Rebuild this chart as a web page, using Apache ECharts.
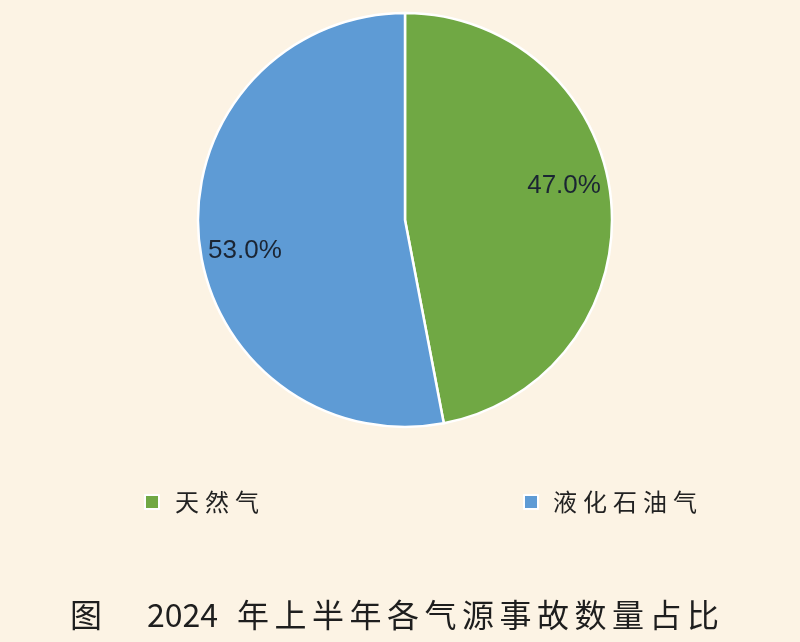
<!DOCTYPE html>
<html>
<head>
<meta charset="utf-8">
<script src="https://cdn.jsdelivr.net/npm/echarts@6/dist/echarts.min.js"></script>
<style>
html,body{margin:0;padding:0;background:#fcf3e4;}
#chart{width:800px;height:642px;}
</style>
</head>
<body>
<div id="chart"></div>
<script>
var categories = ['天然气', '液化石油气'];
var values = [47.0, 53.0];
var colors = ['#70a844', '#5e9bd5'];
var titleFig = '图';
var titleYear = '2024';
var titleRest = '年上半年各气源事故数量占比';

var labelOffsets = [[53, -24], [-54, 21]];

function spaced(str, style) {
  return str.split('').map(function (ch) { return '{' + style + '|' + ch + '}'; }).join('');
}

var chart = echarts.init(document.getElementById('chart'));
var data = categories.map(function (c, i) {
  return {
    name: c,
    value: values[i],
    itemStyle: { color: colors[i] },
    label: { offset: labelOffsets[i] }
  };
});

var legendRich = { c: { fontSize: 24, width: 30, fontFamily: 'Noto Sans CJK SC', color: '#222' } };
var tStyle = { fontSize: 32, lineHeight: 38, fontFamily: 'Noto Sans CJK SC', fontWeight: 'normal', color: '#1e1e1e' };

chart.setOption({
  backgroundColor: '#fcf3e4',
  animation: false,
  title: {
    left: 70,
    top: 596,
    padding: 0,
    text: '{fig|' + titleFig + '}{num|' + titleYear + '}' + spaced(titleRest, 'c'),
    textStyle: {
      fontWeight: 'normal',
      rich: {
        fig: Object.assign({ width: 77 }, tStyle),
        num: Object.assign({ width: 90 }, tStyle),
        c: Object.assign({ width: 37.5 }, tStyle)
      }
    }
  },
  legend: [
    {
      data: [categories[0]], left: 144, top: 490, padding: 0,
      itemWidth: 14, itemHeight: 14, icon: 'rect',
      formatter: function (n) { return spaced(n, 'c'); },
      textStyle: { padding: [0, 0, 0, 11], rich: legendRich }
    },
    {
      data: [categories[1]], left: 523, top: 490, padding: 0,
      itemWidth: 14, itemHeight: 14, icon: 'rect',
      formatter: function (n) { return spaced(n, 'c'); },
      textStyle: { padding: [0, 0, 0, 10], rich: legendRich }
    }
  ],
  series: [{
    type: 'pie',
    center: [405, 220],
    radius: [0, 207],
    startAngle: 90,
    clockwise: true,
    itemStyle: { borderColor: '#ffffff', borderWidth: 2.5 },
    label: {
      show: true,
      position: 'inside',
      formatter: function (p) { return p.value.toFixed(1) + '%'; },
      fontFamily: 'Liberation Sans',
      fontSize: 26,
      color: '#1b2533'
    },
    labelLine: { show: false },
    emphasis: { disabled: true },
    data: data
  }]
});
</script>
</body>
</html>
